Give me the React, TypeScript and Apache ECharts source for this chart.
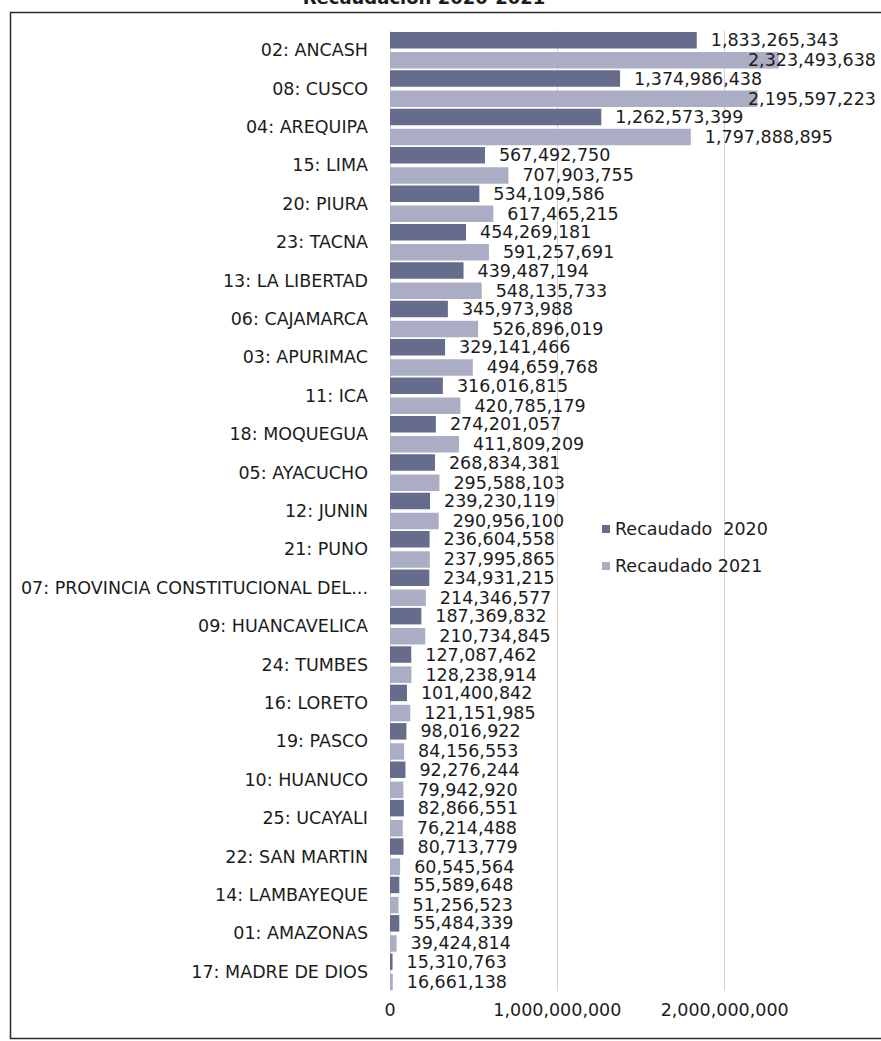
import React, { useEffect, useRef } from "react";
import * as echarts from "echarts";

const categories = [
  "02: ANCASH",
  "08: CUSCO",
  "04: AREQUIPA",
  "15: LIMA",
  "20: PIURA",
  "23: TACNA",
  "13: LA LIBERTAD",
  "06: CAJAMARCA",
  "03: APURIMAC",
  "11: ICA",
  "18: MOQUEGUA",
  "05: AYACUCHO",
  "12: JUNIN",
  "21: PUNO",
  "07: PROVINCIA CONSTITUCIONAL DEL...",
  "09: HUANCAVELICA",
  "24: TUMBES",
  "16: LORETO",
  "19: PASCO",
  "10: HUANUCO",
  "25: UCAYALI",
  "22: SAN MARTIN",
  "14: LAMBAYEQUE",
  "01: AMAZONAS",
  "17: MADRE DE DIOS",
];

const recaudado2020 = [
  1833265343, 1374986438, 1262573399, 567492750, 534109586, 454269181,
  439487194, 345973988, 329141466, 316016815, 274201057, 268834381,
  239230119, 236604558, 234931215, 187369832, 127087462, 101400842,
  98016922, 92276244, 82866551, 80713779, 55589648, 55484339, 15310763,
];

const recaudado2021 = [
  2323493638, 2195597223, 1797888895, 707903755, 617465215, 591257691,
  548135733, 526896019, 494659768, 420785179, 411809209, 295588103,
  290956100, 237995865, 214346577, 210734845, 128238914, 121151985,
  84156553, 79942920, 76214488, 60545564, 51256523, 39424814, 16661138,
];

const seriesNames = ["Recaudado  2020", "Recaudado 2021"];
const xTicks = { min: 0, max: 3000000000, interval: 1000000000 };
const titleText = "Recaudación 2020-2021";

const W = 881;
const H = 1041;
const GRID_LEFT = 390;
const GRID_RIGHT = -11;
const GRID_TOP = 31;
const GRID_HEIGHT = 960;
const FONT = "DejaVu Sans";
const FS = 17.5;
const LABEL_DIST = 14;
const LABEL_W_EST = 133;
const OVERFLOW_PAD = 16;

const fmt = (v: number) =>
  String(Math.round(v)).replace(/\B(?=(\d{3})+(?!\d))/g, ",");

export default function App() {
  const ref = useRef<HTMLDivElement>(null);

  useEffect(() => {
    if (!ref.current) return;
    const chart = echarts.init(ref.current, null, { renderer: "svg" });
    const plotW = W - GRID_LEFT - GRID_RIGHT;
    const pxPerUnit = plotW / xTicks.max;

    const toItems = (arr: number[]) =>
      arr.map((v) => {
        const end = v * pxPerUnit;
        if (end + LABEL_DIST + LABEL_W_EST > plotW) {
          return {
            value: v,
            label: {
              position: "insideRight",
              distance: 0,
              offset: [(xTicks.max - v) * pxPerUnit - OVERFLOW_PAD, 0],
            },
          };
        }
        return v;
      });

    const labelCfg = {
      show: true,
      position: "right",
      distance: LABEL_DIST,
      color: "#1c1c1c",
      fontFamily: FONT,
      fontSize: FS,
      formatter: (p: any) => fmt(p.value),
    };

    chart.setOption({
      animation: false,
      backgroundColor: "#ffffff",
      textStyle: { fontFamily: FONT },
      graphic: [
        {
          type: "rect",
          shape: { x: 10.5, y: 12.5, width: 900, height: 1026 },
          style: { fill: "none", stroke: "#2a2a2a", lineWidth: 1.5 },
          silent: true,
          z: -10,
        },
        {
          type: "text",
          x: 424,
          y: 6,
          style: {
            text: titleText,
            fill: "#1c1c1c",
            font: `bold 18px "${FONT}"`,
            align: "center",
            verticalAlign: "bottom",
          },
          silent: true,
        },
      ],
      legend: {
        orient: "vertical",
        left: 597,
        top: 515,
        itemWidth: 8,
        itemHeight: 8,
        itemGap: 19,
        icon: "rect",
        textStyle: { fontFamily: FONT, fontSize: FS, color: "#1c1c1c" },
        data: seriesNames,
      },
      grid: {
        left: GRID_LEFT,
        right: GRID_RIGHT,
        top: GRID_TOP,
        height: GRID_HEIGHT,
        outerBoundsMode: "none",
        containLabel: false,
      },
      xAxis: {
        type: "value",
        min: xTicks.min,
        max: xTicks.max,
        interval: xTicks.interval,
        axisLine: { show: false },
        axisTick: { show: false },
        splitLine: { show: true, lineStyle: { color: "#d2d2d2", width: 1 } },
        axisLabel: {
          margin: 10,
          color: "#1c1c1c",
          fontFamily: FONT,
          fontSize: FS,
          formatter: (v: number) => (v >= xTicks.max ? "" : fmt(v)),
        },
      },
      yAxis: {
        type: "category",
        inverse: true,
        data: categories,
        axisLine: { show: false },
        axisTick: { show: false },
        axisLabel: {
          margin: 22,
          color: "#1c1c1c",
          fontFamily: FONT,
          fontSize: FS,
        },
      },
      series: [
        {
          name: seriesNames[0],
          type: "bar",
          data: toItems(recaudado2020),
          barWidth: 16.5,
          barGap: "22%",
          itemStyle: { color: "#656c8c" },
          label: labelCfg,
        },
        {
          name: seriesNames[1],
          type: "bar",
          data: toItems(recaudado2021),
          barWidth: 16.5,
          itemStyle: { color: "#abadc5" },
          label: labelCfg,
        },
      ],
    });
    return () => chart.dispose();
  }, []);

  return (
    <div
      ref={ref}
      style={{ position: "absolute", left: 0, top: 0, width: W, height: H }}
    />
  );
}
